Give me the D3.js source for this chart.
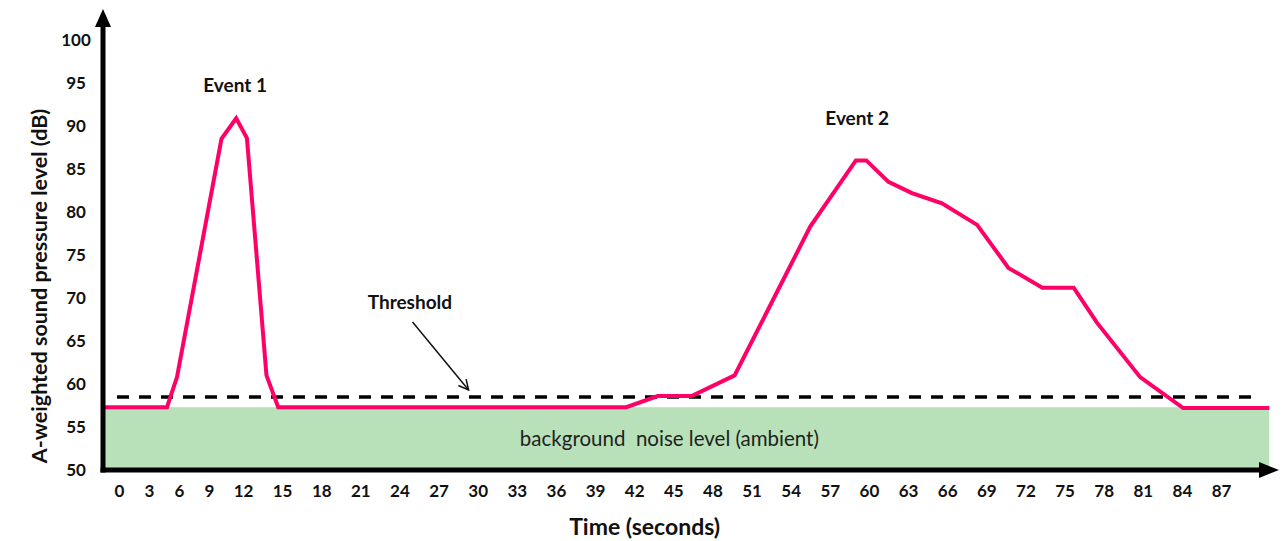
<!DOCTYPE html>
<meta charset="utf-8">
<style>
body { margin: 0; background: #fff; }
text { font-family: Lato, "Open Sans", sans-serif; fill: #111; }
.tick text { font-weight: bold; font-size: 17px; }
</style>
<body>
<script src="https://d3js.org/d3.v7.min.js"></script>
<script>

var width = 1287
var height = 541

// data (time in seconds, level in dB)
var times  = [-1.6, 4.8, 5.8, 10.1, 11.4, 12.3, 13.8, 14.7, 41.4, 43.8, 46.4, 49.7, 55.5, 59.0, 59.8, 61.5, 63.3, 65.6, 68.3, 70.7, 73.3, 75.7, 77.5, 80.8, 84.1, 90.7]
var levels = [57.3, 57.3, 60.8, 88.5, 90.9, 88.6, 61.0, 57.3, 57.3, 58.6, 58.6, 61.0, 78.3, 86.0, 86.0, 83.5, 82.2, 81.0, 78.5, 73.5, 71.2, 71.2, 67.1, 60.8, 57.2, 57.2]
var background = 57.3
var threshold = 58.5
var timeRange = [-1.6, 90.7]

var xTicks = d3.range(0, 88, 3)
var yTicks = d3.range(50, 101, 5)

var labels = [
  {text: "Event 1", t: 11.3, db: 94.7},
  {text: "Event 2", t: 59.1, db: 90.9},
  {text: "Threshold", t: 24.8, db: 69.5}
]
var pointer = {from: [25.0, 67.2], to: [29.3, 59.3]}

var svg = d3.select("body").append("svg")
    .attr("width", width)
    .attr("height", height)

// tick labels are typed text in the original, so spacing is uneven
var x = d3.scaleLinear()
    .domain([-1.6, 0, 9, 12, 87])
    .range([103, 119, 209, 243, 1221])

var y = d3.scaleLinear()
    .domain([50, 100])
    .range([470, 40])

var defs = svg.append("defs")
defs.append("marker")
    .attr("id", "open")
    .attr("viewBox", "0 0 12 12")
    .attr("refX", 11)
    .attr("refY", 6)
    .attr("markerWidth", 12)
    .attr("markerHeight", 12)
    .attr("markerUnits", "userSpaceOnUse")
    .attr("orient", "auto")
  .append("path")
    .attr("d", "M1,1 L11,6 L1,11")
    .attr("fill", "none")
    .attr("stroke", "#111")
    .attr("stroke-width", 1.5)

// background noise band
svg.append("rect")
    .attr("x", x(timeRange[0]))
    .attr("y", y(background))
    .attr("width", x(timeRange[1]) - x(timeRange[0]))
    .attr("height", y(50) - y(background))
    .attr("fill", "#b8e1ba")

svg.append("text")
    .attr("x", x(44.7))
    .attr("y", y(50) - 24)
    .attr("text-anchor", "middle")
    .style("font-size", "20.5px")
    .style("fill", "#222")
    .attr("xml:space", "preserve")
    .text("background  noise level (ambient)")

// threshold
svg.append("line")
    .attr("x1", x(0) - 2)
    .attr("x2", x(89.6))
    .attr("y1", y(threshold))
    .attr("y2", y(threshold))
    .attr("stroke", "#000")
    .attr("stroke-width", 3.5)
    .attr("stroke-dasharray", "12,10")

// sound level line
var pts = times.map(function(t, i) { return [t, levels[i]] })
var line = d3.line()
    .x(function(d) { return x(d[0]) })
    .y(function(d) { return y(d[1]) })

svg.append("path")
    .datum(pts)
    .attr("d", line)
    .attr("fill", "none")
    .attr("stroke", "#ff0066")
    .attr("stroke-width", 4)
    .attr("stroke-linejoin", "miter")

// axes
var xAxis = svg.append("g")
    .attr("transform", "translate(0," + y(50) + ")")
    .call(d3.axisBottom(x).tickValues(xTicks).tickSize(0).tickPadding(15))
xAxis.select(".domain").remove()

var yAxis = svg.append("g")
    .attr("transform", "translate(" + x(timeRange[0]) + ",0)")
    .call(d3.axisLeft(y).tickValues(yTicks).tickSize(0))
yAxis.select(".domain").remove()
yAxis.selectAll("text")
    .attr("x", -27)
    .attr("dy", "0.35em")
    .style("text-anchor", "middle")

var x0 = x(timeRange[0]), y0 = y(50)
svg.append("line")
    .attr("x1", x0).attr("x2", x0)
    .attr("y1", y0 + 2.5).attr("y2", 24)
    .attr("stroke", "#000").attr("stroke-width", 5)
svg.append("path")
    .attr("d", "M" + x0 + ",9 L" + (x0 - 8) + ",27 L" + (x0 + 8) + ",27 Z")
    .attr("fill", "#000")
svg.append("line")
    .attr("x1", x0 - 2.5).attr("x2", 1262)
    .attr("y1", y0).attr("y2", y0)
    .attr("stroke", "#000").attr("stroke-width", 5)
svg.append("path")
    .attr("d", "M1279," + y0 + " L1259," + (y0 - 8) + " L1259," + (y0 + 8) + " Z")
    .attr("fill", "#000")

// axis titles
svg.append("text")
    .attr("transform", "translate(47," + y(71.4) + ") rotate(-90)")
    .attr("text-anchor", "middle")
    .style("font-size", "21.5px")
    .style("font-weight", "bold")
    .text("A-weighted sound pressure level (dB)")

svg.append("text")
    .attr("x", x(42.8))
    .attr("y", 535)
    .attr("text-anchor", "middle")
    .style("font-size", "23px")
    .style("font-weight", "bold")
    .text("Time (seconds)")

// annotations
labels.forEach(function(d) {
  svg.append("text")
      .attr("x", x(d.t))
      .attr("y", y(d.db))
      .attr("dy", "0.35em")
      .attr("text-anchor", "middle")
      .style("font-size", "19px")
      .style("font-weight", "bold")
      .text(d.text)
})

svg.append("line")
    .attr("x1", x(pointer.from[0]))
    .attr("y1", y(pointer.from[1]))
    .attr("x2", x(pointer.to[0]))
    .attr("y2", y(pointer.to[1]))
    .attr("stroke", "#111")
    .attr("stroke-width", 1.5)
    .attr("marker-end", "url(#open)")

</script>
